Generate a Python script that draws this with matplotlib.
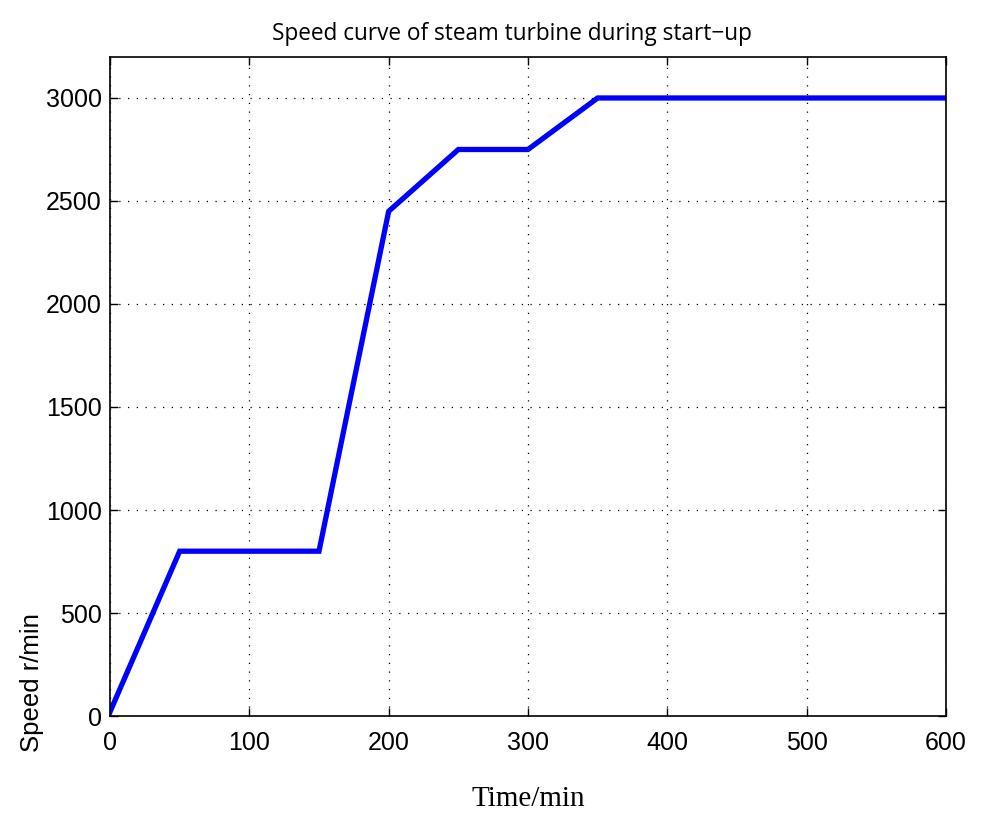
import numpy as np
import matplotlib.pyplot as plt

# start-up schedule
time_min = [0, 50, 150, 200, 250, 300, 350, 600]
speed_rpm = [20, 800, 800, 2450, 2750, 2750, 3000, 3000]

x_ticks = [0, 100, 200, 300, 400, 500, 600]
y_ticks = [0, 500, 1000, 1500, 2000, 2500, 3000]

fig = plt.figure(figsize=(10, 8.35), dpi=100)
ax = fig.add_axes([0.11, 0.1425, 0.836, 0.7895])

ax.plot(time_min, speed_rpm, color=(0, 0, 1), lw=3.8, solid_joinstyle='miter')

ax.set_xlim(0, 600)
ax.set_ylim(0, 3200)
ax.set_xticks(x_ticks)
ax.set_yticks(y_ticks)
ax.grid(True, linestyle=(0, (1, 6)), color='black', lw=0.9)
ax.tick_params(direction='in', length=6, width=1, top=True, right=True,
               labelsize=18)
ax.tick_params(axis='x', pad=11)
ax.tick_params(axis='y', pad=6)
for lab in ax.get_xticklabels() + ax.get_yticklabels():
    lab.set_family(['Liberation Sans', 'DejaVu Sans'])
for s in ax.spines.values():
    s.set_linewidth(1.2)

ax.set_title('Speed curve of steam turbine during start\u2212up', x=0.481,
             fontsize=16.3, family=['Open Sans', 'DejaVu Sans'], pad=12)
ax.set_xlabel('Time/min', fontsize=21, family=['Liberation Serif', 'DejaVu Serif'],
              labelpad=22)
ax.set_ylabel('Speed r/min', fontsize=18.5, family=['Liberation Sans', 'DejaVu Sans'])
ax.yaxis.set_label_coords(-0.093, 0.05)
ax.yaxis.label.set_va('center')

fig.savefig('out.png', dpi=100)
